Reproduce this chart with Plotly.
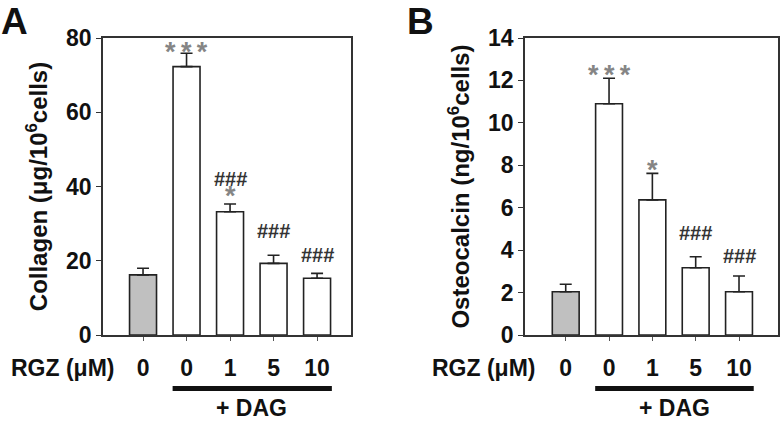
import plotly.graph_objects as go

# ---- data ----
categories = ["0", "0", "1", "5", "10"]
collagen_mean = [16.2, 72.3, 33.2, 19.3, 15.3]
collagen_err_top = [18.0, 75.9, 35.3, 21.5, 16.6]
osteo_mean = [2.04, 10.9, 6.37, 3.17, 2.04]
osteo_err_top = [2.39, 12.1, 7.62, 3.69, 2.78]
collagen_marks = [[], ["***"], ["*", "###"], ["###"], ["###"]]
osteo_marks = [[], ["***"], ["*"], ["###"], ["###"]]
bar_fill = ["#c0c0c0", "white", "white", "white", "white"]

FONT = "Liberation Sans, Arial, sans-serif"
W, H = 783, 422

xpos = list(range(len(categories)))

fig = go.Figure()


def add_panel(means, tops, xa, ya):
    fig.add_trace(go.Bar(
        x=xpos, y=means, xaxis=xa, yaxis=ya, width=0.62,
        marker=dict(color=bar_fill, line=dict(color="#222", width=1.6)),
        error_y=dict(type="data", symmetric=False,
                     array=[t - m for t, m in zip(tops, means)],
                     arrayminus=[0] * len(means),
                     color="#222", thickness=1.6, width=6),
        showlegend=False, hoverinfo="skip"))


add_panel(collagen_mean, collagen_err_top, "x", "y")
add_panel(osteo_mean, osteo_err_top, "x2", "y2")

ydom = [(H - 335) / H, (H - 38) / H]
axis_common = dict(showline=True, mirror=True, linecolor="#333", linewidth=1.5,
                   showgrid=False, zeroline=False, automargin=False)
tickf = dict(size=23, weight="bold", family=FONT, color="#111")
titlef = dict(size=24, weight="bold", family=FONT, color="#111")
fig.update_layout(
    width=W, height=H, margin=dict(l=0, r=0, t=0, b=0),
    paper_bgcolor="white", plot_bgcolor="white",
    font=dict(family=FONT, color="#111"),
    xaxis=dict(domain=[103 / W, 351 / W], range=[-0.92, 4.78],
               tickvals=xpos, ticktext=categories, ticks="outside", ticklen=4,
               tickcolor="#555", ticklabelstandoff=8, tickfont=tickf, **axis_common),
    yaxis=dict(domain=ydom, range=[0, 80], dtick=20, ticks="outside", ticklen=5,
               tickcolor="#333", tickfont=tickf,
               title=dict(text="Collagen (\u03bcg/10<sup>6</sup>cells)", standoff=12,
                          font=titlef),
               **axis_common),
    xaxis2=dict(domain=[525 / W, 778 / W], range=[-0.94, 4.9], anchor="y2",
                tickvals=xpos, ticktext=categories, ticks="outside", ticklen=4,
                tickcolor="#555", ticklabelstandoff=8, tickfont=tickf, **axis_common),
    yaxis2=dict(domain=ydom, range=[0, 14], dtick=2, anchor="x2", ticks="outside",
                ticklen=5, tickcolor="#333", tickfont=tickf,
                title=dict(text="Osteocalcin (ng/10<sup>6</sup>cells)", standoff=12,
                           font=titlef),
                **axis_common),
)

annots = []
shapes = []
for xa, ya, tops, marks, rgz_right, letter, letter_x, shifts in [
    ("x", "y", collagen_err_top, collagen_marks, 117 / W, "A", -1 / W,
     {1: [-16], 2: [-9, 12], 3: [11], 4: [5]}),
    ("x2", "y2", osteo_err_top, osteo_marks, 538 / W, "B", 405 / W,
     {1: [-14], 2: [-14], 3: [11], 4: [7]}),
]:
    for i, mk in enumerate(marks):
        for j, txt in enumerate(mk):
            star = "*" in txt
            annots.append(dict(
                x=xpos[i], y=tops[i], xref=xa, yref=ya,
                text=txt.replace("*", "*\u2009").rstrip("\u2009") if star else txt,
                showarrow=False, yanchor="bottom", yshift=shifts[i][j],
                font=dict(size=27 if star else 20, family=FONT,
                          weight="bold",
                          color="#858585" if star else "#333")))
    annots.append(dict(x=rgz_right, y=(H - 368) / H, xref="paper", yref="paper",
                       xanchor="right", yanchor="middle", text="RGZ (\u03bcM)",
                       showarrow=False, font=tickf))
    annots.append(dict(x=2.5, y=(H - 408) / H, xref=xa, yref="paper",
                       xanchor="center", yanchor="middle", text="+ DAG",
                       showarrow=False, font=tickf))
    annots.append(dict(x=letter_x, y=(H + 1) / H, xref="paper", yref="paper",
                       xanchor="left", yanchor="top", text=letter, showarrow=False,
                       font=dict(size=37, weight="bold", family=FONT, color="#111")))
    shapes.append(dict(type="line", xref=xa, yref="paper", x0=0.68, x1=4.34,
                       y0=(H - 388.5) / H, y1=(H - 388.5) / H,
                       line=dict(color="#111", width=5)))

fig.update_layout(annotations=annots, shapes=shapes)
fig.write_html("out.html", config={"displayModeBar": False},
               post_script="document.body.style.margin='0';"
                           "document.body.style.overflow='hidden';")
